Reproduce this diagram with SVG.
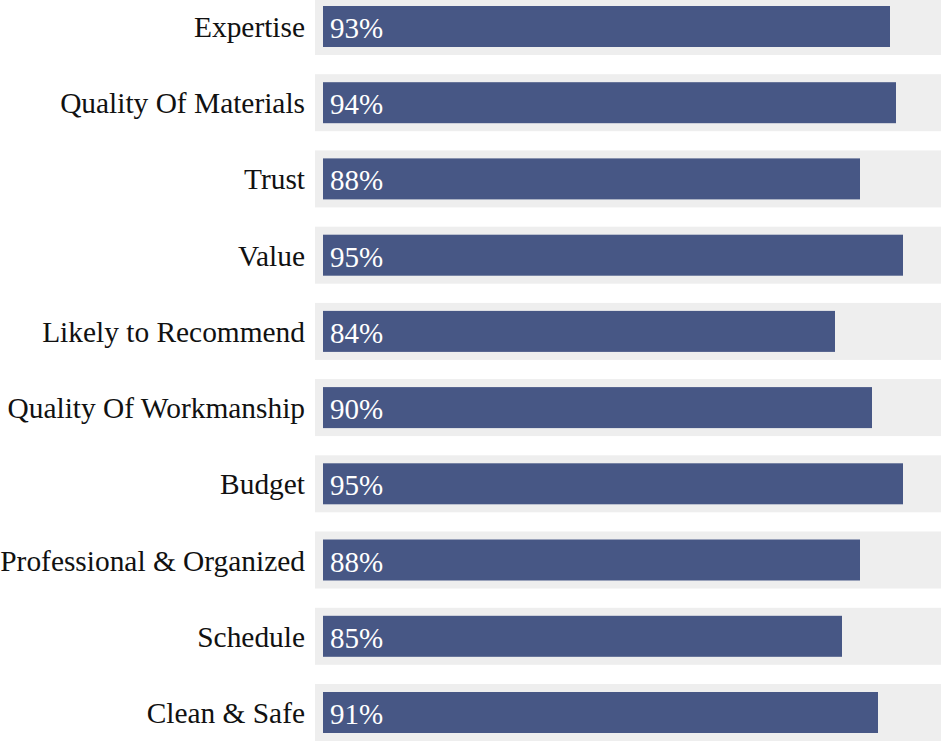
<svg xmlns="http://www.w3.org/2000/svg" width="941" height="742" viewBox="0 0 941 742">
<style>
.track{fill:#eeeeee}
.bar{fill:#475785}
.lbl{font-size:29.4px;fill:#111111;text-anchor:end}
.pct{font-size:29px;fill:#ffffff}
</style>
<rect width="941" height="742" fill="#ffffff"/>
<g font-family="Liberation Serif, Times New Roman, serif">
<g id="row-expertise" transform="translate(0,6)">
<rect class="track" x="315" y="-8" width="626" height="57"/>
<rect class="bar" x="323" y="0" width="567" height="41"/>
<text class="lbl" x="305" y="31">Expertise</text>
<text class="pct" x="330" y="32">93%</text>
</g>
<g id="row-quality-materials" transform="translate(0,82.2)">
<rect class="track" x="315" y="-8" width="626" height="57"/>
<rect class="bar" x="323" y="0" width="573" height="41"/>
<text class="lbl" x="305" y="31">Quality Of Materials</text>
<text class="pct" x="330" y="32">94%</text>
</g>
<g id="row-trust" transform="translate(0,158.4)">
<rect class="track" x="315" y="-8" width="626" height="57"/>
<rect class="bar" x="323" y="0" width="537" height="41"/>
<text class="lbl" x="305" y="31">Trust</text>
<text class="pct" x="330" y="32">88%</text>
</g>
<g id="row-value" transform="translate(0,234.7)">
<rect class="track" x="315" y="-8" width="626" height="57"/>
<rect class="bar" x="323" y="0" width="580" height="41"/>
<text class="lbl" x="305" y="31">Value</text>
<text class="pct" x="330" y="32">95%</text>
</g>
<g id="row-recommend" transform="translate(0,310.9)">
<rect class="track" x="315" y="-8" width="626" height="57"/>
<rect class="bar" x="323" y="0" width="512" height="41"/>
<text class="lbl" x="305" y="31">Likely to Recommend</text>
<text class="pct" x="330" y="32">84%</text>
</g>
<g id="row-workmanship" transform="translate(0,387.1)">
<rect class="track" x="315" y="-8" width="626" height="57"/>
<rect class="bar" x="323" y="0" width="549" height="41"/>
<text class="lbl" x="305" y="31">Quality Of Workmanship</text>
<text class="pct" x="330" y="32">90%</text>
</g>
<g id="row-budget" transform="translate(0,463.3)">
<rect class="track" x="315" y="-8" width="626" height="57"/>
<rect class="bar" x="323" y="0" width="580" height="41"/>
<text class="lbl" x="305" y="31">Budget</text>
<text class="pct" x="330" y="32">95%</text>
</g>
<g id="row-professional" transform="translate(0,539.5)">
<rect class="track" x="315" y="-8" width="626" height="57"/>
<rect class="bar" x="323" y="0" width="537" height="41"/>
<text class="lbl" x="305" y="31">Professional &amp; Organized</text>
<text class="pct" x="330" y="32">88%</text>
</g>
<g id="row-schedule" transform="translate(0,615.8)">
<rect class="track" x="315" y="-8" width="626" height="57"/>
<rect class="bar" x="323" y="0" width="519" height="41"/>
<text class="lbl" x="305" y="31">Schedule</text>
<text class="pct" x="330" y="32">85%</text>
</g>
<g id="row-clean" transform="translate(0,692)">
<rect class="track" x="315" y="-8" width="626" height="57"/>
<rect class="bar" x="323" y="0" width="555" height="41"/>
<text class="lbl" x="305" y="31">Clean &amp; Safe</text>
<text class="pct" x="330" y="32">91%</text>
</g>
</g>
<g id="connectors"/>
</svg>
